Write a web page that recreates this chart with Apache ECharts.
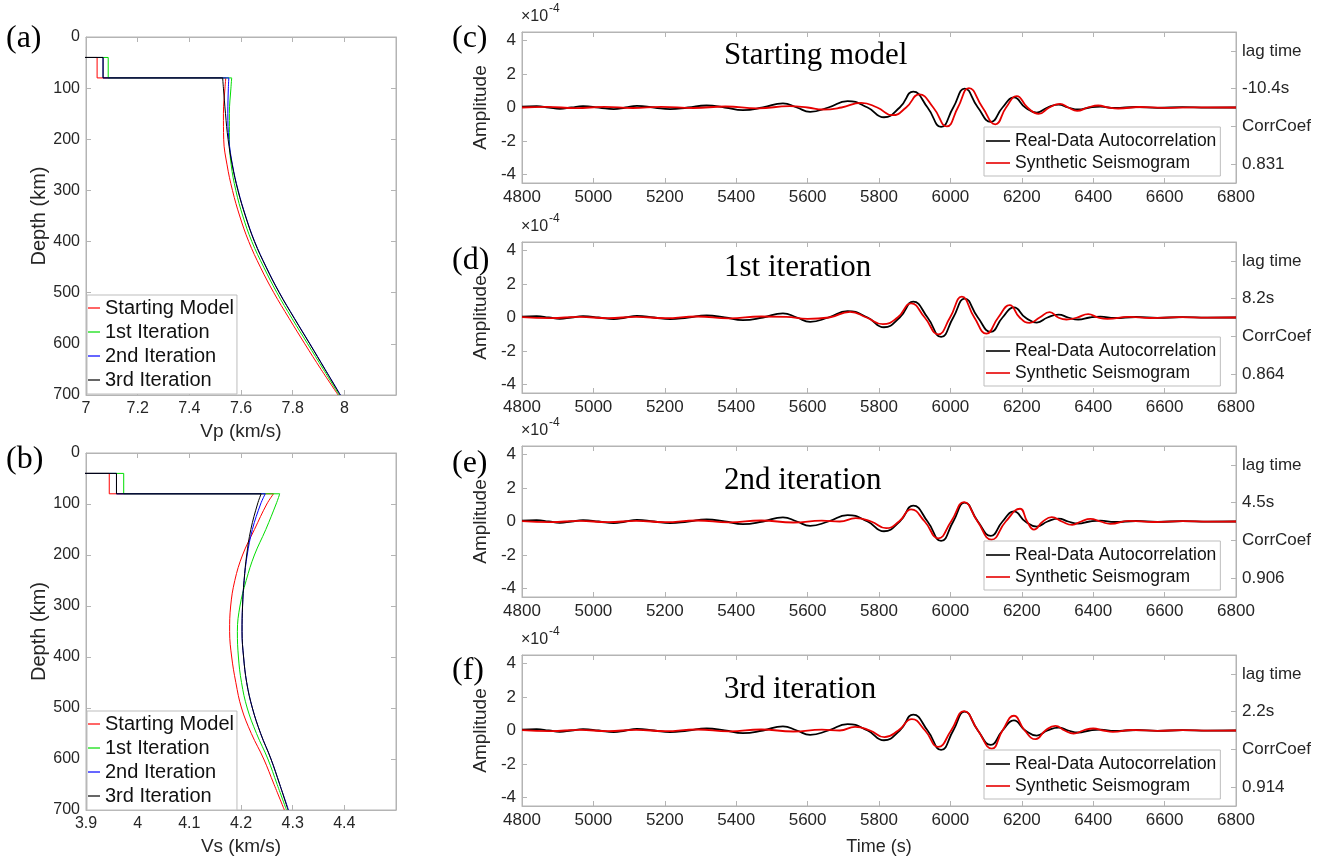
<!DOCTYPE html>
<html>
<head>
<meta charset="utf-8">
<script src="https://cdn.jsdelivr.net/npm/echarts@6/dist/echarts.min.js"></script>
<style>
  html, body { margin: 0; padding: 0; background: #fff; }
  #chart { width: 1330px; height: 861px; }
</style>
</head>
<body>
<div id="chart"></div>
<script>
// ---- velocity profiles (a), (b) ----
const modelNames = ["Starting Model", "1st Iteration", "2nd Iteration", "3rd Iteration"];
const modelColors = ["#ff0000", "#00dd00", "#0000ff", "#000000"];
const lidDepths = [40, 80];
const mantleDepths = [80, 100, 150, 200, 250, 300, 350, 400, 450, 500, 550, 600, 650, 700];

const vpCrust = 6.8;
const vpLid = [7.043, 7.086, 7.066, 7.066];
const vpStart = [7.541, 7.538, 7.532, 7.533, 7.546, 7.567, 7.595, 7.630, 7.675, 7.727, 7.786, 7.847, 7.910, 7.976];
const vpIter1 = [7.564, 7.561, 7.555, 7.555, 7.562, 7.580, 7.607, 7.642, 7.688, 7.739, 7.797, 7.858, 7.919, 7.980];
const vpIter2 = [7.553, 7.551, 7.549, 7.553, 7.567, 7.589, 7.618, 7.653, 7.698, 7.749, 7.807, 7.867, 7.926, 7.985];
const vpIter3 = [7.529, 7.532, 7.540, 7.550, 7.566, 7.588, 7.617, 7.652, 7.697, 7.748, 7.806, 7.866, 7.925, 7.984];

const vsCrust = 3.8;
const vsLid = [3.945, 3.973, 3.959, 3.959];
const vsStart = [4.263, 4.250, 4.226, 4.203, 4.188, 4.180, 4.178, 4.182, 4.190, 4.201, 4.220, 4.244, 4.264, 4.284];
const vsIter1 = [4.275, 4.268, 4.248, 4.226, 4.210, 4.198, 4.193, 4.195, 4.201, 4.212, 4.230, 4.252, 4.270, 4.288];
const vsIter2 = [4.247, 4.238, 4.222, 4.212, 4.206, 4.203, 4.202, 4.205, 4.211, 4.222, 4.238, 4.258, 4.275, 4.292];
const vsIter3 = [4.239, 4.232, 4.219, 4.211, 4.206, 4.203, 4.202, 4.205, 4.211, 4.222, 4.238, 4.258, 4.275, 4.291];

const vpTicks = [7, 7.2, 7.4, 7.6, 7.8, 8];
const vsTicks = [3.9, 4, 4.1, 4.2, 4.3, 4.4];

// ---- waveforms (c)-(f), amplitude in 1e-4 ----
const panelTitles = ["Starting model", "1st iteration", "2nd iteration", "3rd iteration"];
const panelLetters = ["(c)", "(d)", "(e)", "(f)"];
const lagTimes = ["-10.4s", "8.2s", "4.5s", "2.2s"];
const corrCoefs = ["0.831", "0.864", "0.906", "0.914"];
const ampTicks = [-4, -2, 0, 2, 4];

const realTime = [4800, 4841, 4875, 4906, 4938, 4971, 5015, 5057, 5090, 5122, 5170, 5215, 5265, 5317, 5368, 5419, 5475, 5531, 5570, 5607, 5658, 5712, 5768, 5814, 5858, 5896, 5936, 5974, 6008, 6040, 6077, 6113, 6146, 6178, 6210, 6242, 6272, 6303, 6330, 6358, 6390, 6420, 6460, 6520, 6580, 6650, 6720, 6800];
const realAmp = [0.05, 0.08, 0, -0.08, 0, 0.08, 0, -0.1, 0, 0.1, 0, -0.1, 0, 0.12, 0, -0.16, 0, 0.25, 0, -0.26, 0, 0.38, 0, -0.58, 0, 0.95, 0, -1.16, 0, 1.13, 0, -0.86, 0, 0.6, 0, -0.3, 0, 0.17, 0, -0.12, 0, 0.05, -0.03, 0.03, -0.02, 0.02, -0.01, 0];

const synTime0 = [4800, 4870, 4950, 5030, 5110, 5190, 5280, 5370, 5460, 5550, 5600, 5643, 5695, 5750, 5795, 5838, 5876, 5913, 5952, 5990, 6021, 6052, 6090, 6126, 6156, 6186, 6216, 6247, 6277, 6307, 6330, 6355, 6385, 6414, 6442, 6470, 6530, 6600, 6680, 6800];
const synAmp0 = [0, 0.04, -0.04, 0.04, -0.03, 0.04, -0.03, 0.06, -0.05, 0.08, 0, -0.12, 0, 0.28, 0, -0.46, 0, 0.78, 0, -1.13, 0, 1.16, 0, -1.0, 0, 0.68, 0, -0.38, 0, 0.22, 0, -0.2, 0, 0.12, 0, -0.06, 0.03, -0.02, 0.01, 0];

const synTime1 = [4800, 4880, 4960, 5040, 5120, 5200, 5290, 5380, 5470, 5540, 5600, 5660, 5719, 5765, 5811, 5852, 5890, 5928, 5966, 5999, 6032, 6067, 6101, 6134, 6166, 6194, 6222, 6250, 6278, 6302, 6325, 6355, 6386, 6413, 6440, 6500, 6560, 6640, 6720, 6800];
const synAmp1 = [0.02, -0.04, 0.04, -0.04, 0.04, -0.04, 0.06, -0.05, 0.06, 0.04, -0.08, 0, 0.34, 0, -0.4, 0, 0.84, 0, -1.0, 0, 1.24, 0, -0.96, 0, 0.74, 0, -0.32, 0, 0.32, 0, -0.12, 0, 0.2, 0, -0.08, 0.04, -0.03, 0.02, -0.01, 0];

const synTime2 = [4800, 4880, 4960, 5040, 5120, 5200, 5290, 5380, 5470, 5560, 5640, 5690, 5735, 5778, 5820, 5856, 5890, 5928, 5966, 6002, 6038, 6076, 6115, 6155, 6195, 6215, 6234, 6259, 6284, 6312, 6341, 6366, 6392, 6420, 6448, 6500, 6570, 6650, 6730, 6800];
const synAmp2 = [0.02, -0.04, 0.04, -0.04, 0.04, -0.04, 0.06, -0.05, 0.06, -0.06, 0.05, 0, 0.2, 0, -0.4, 0, 0.72, 0, -1.0, 0, 1.16, 0, -1.08, 0, 0.76, 0, -0.48, 0, 0.26, 0, -0.2, 0, 0.16, 0, -0.14, 0.04, -0.03, 0.02, -0.01, 0];

const synTime3 = [4800, 4880, 4960, 5040, 5120, 5200, 5290, 5380, 5470, 5560, 5640, 5690, 5733, 5775, 5815, 5854, 5892, 5929, 5966, 6002, 6038, 6077, 6116, 6146, 6178, 6208, 6239, 6266, 6294, 6320, 6345, 6372, 6400, 6428, 6455, 6510, 6580, 6650, 6730, 6800];
const synAmp3 = [0.02, -0.04, 0.04, -0.04, 0.04, -0.04, 0.06, -0.05, 0.06, -0.06, 0.05, 0, 0.22, 0, -0.4, 0, 0.68, 0, -0.98, 0, 1.16, 0, -1.08, 0, 0.88, 0, -0.52, 0, 0.28, 0, -0.18, 0, 0.12, 0, -0.08, 0.03, -0.02, 0.02, -0.01, 0];

const synTimes = [synTime0, synTime1, synTime2, synTime3];
const synAmps = [synAmp0, synAmp1, synAmp2, synAmp3];

// ---- layout ----
const sans = "Liberation Sans";
const serif = "Liberation Serif";
const axisGray = "#b4b4b4";
const labelColor = "#262626";

const profileGrids = [
  { left: 86, top: 37, width: 310, height: 358 },
  { left: 86, top: 453, width: 310, height: 357 },
];
const waveTops = [32, 242, 446, 655];
const waveGrids = waveTops.map((t) => ({ left: 522, top: t, width: 714, height: 151 }));

const lineAxis = { show: true, onZero: false, lineStyle: { color: axisGray } };
const tickStyle = (vals) => ({
  show: true, inside: true, length: 5, lineStyle: { color: axisGray },
  customValues: vals,
});
const labelStyle = (size, vals) => ({
  color: labelColor, fontSize: size, fontFamily: sans, customValues: vals,
});
const plain = (v) => String(v);

const xAxes = [];
const yAxes = [];

// profile axes
[
  { min: 7, max: 8.2, ticks: vpTicks, name: "Vp (km/s)" },
  { min: 3.9, max: 4.5, ticks: vsTicks, name: "Vs (km/s)" },
].forEach((ax, i) => {
  xAxes.push({
    type: "value", gridIndex: i, min: ax.min, max: ax.max, position: "bottom",
    axisLine: lineAxis, axisTick: tickStyle(ax.ticks), splitLine: { show: false },
    axisLabel: Object.assign(labelStyle(16, ax.ticks), { margin: 6 }),
    name: ax.name, nameLocation: "middle", nameGap: 27,
    nameTextStyle: { color: labelColor, fontSize: 19, fontFamily: sans },
  });
  xAxes.push({
    type: "value", gridIndex: i, min: ax.min, max: ax.max, position: "top",
    axisLine: lineAxis, axisTick: tickStyle(ax.ticks), splitLine: { show: false },
    axisLabel: { show: false },
  });
  yAxes.push({
    type: "value", gridIndex: i, min: 0, max: 700, interval: 100, inverse: true,
    position: "left",
    axisLine: lineAxis, axisTick: { show: true, inside: true, length: 5, lineStyle: { color: axisGray } },
    splitLine: { show: false },
    axisLabel: { color: labelColor, fontSize: 16, fontFamily: sans, margin: 6 },
    name: "Depth (km)", nameLocation: "middle", nameGap: 31,
    nameTextStyle: { color: labelColor, fontSize: 20, fontFamily: sans },
  });
  yAxes.push({
    type: "value", gridIndex: i, min: 0, max: 700, interval: 100, inverse: true,
    position: "right",
    axisLine: lineAxis, axisTick: { show: true, inside: true, length: 5, lineStyle: { color: axisGray } },
    splitLine: { show: false }, axisLabel: { show: false },
  });
});

// waveform axes
waveGrids.forEach((g, k) => {
  const gi = 2 + k;
  const last = k === waveGrids.length - 1;
  xAxes.push({
    type: "value", gridIndex: gi, min: 4800, max: 6800, interval: 200, position: "bottom",
    axisLine: lineAxis, axisTick: { show: true, inside: true, length: 5, lineStyle: { color: axisGray } },
    splitLine: { show: false },
    axisLabel: { color: labelColor, fontSize: 17, fontFamily: sans, margin: 6, formatter: plain },
    name: last ? "Time (s)" : "", nameLocation: "middle", nameGap: 32,
    nameTextStyle: { color: labelColor, fontSize: 18, fontFamily: sans },
  });
  xAxes.push({
    type: "value", gridIndex: gi, min: 4800, max: 6800, interval: 200, position: "top",
    axisLine: lineAxis, axisTick: { show: true, inside: true, length: 5, lineStyle: { color: axisGray } },
    splitLine: { show: false }, axisLabel: { show: false },
  });
  yAxes.push({
    type: "value", gridIndex: gi, min: -4.5, max: 4.5, position: "left",
    axisLine: lineAxis, axisTick: tickStyle(ampTicks), splitLine: { show: false },
    axisLabel: Object.assign(labelStyle(17, ampTicks), { margin: 6 }),
    name: "Amplitude", nameLocation: "middle", nameGap: 22,
    nameTextStyle: { color: labelColor, fontSize: 19, fontFamily: sans },
  });
  yAxes.push({
    type: "category", gridIndex: gi, position: "right", boundaryGap: true,
    data: [corrCoefs[k], "CorrCoef", lagTimes[k], "lag time"],
    axisLine: { show: true, lineStyle: { color: axisGray } },
    axisTick: { show: true, inside: true, length: 5, alignWithLabel: true, lineStyle: { color: axisGray } },
    splitLine: { show: false },
    axisLabel: { color: labelColor, fontSize: 17, fontFamily: sans, margin: 6 },
  });
});

// ---- series ----
const series = [];
const vpModels = [vpStart, vpIter1, vpIter2, vpIter3];
const vsModels = [vsStart, vsIter1, vsIter2, vsIter3];

[[vpCrust, vpLid, vpModels], [vsCrust, vsLid, vsModels]].forEach(([crust, lid, models], p) => {
  models.forEach((mantle, m) => {
    const common = {
      name: modelNames[m], type: "line", xAxisIndex: 2 * p, yAxisIndex: 2 * p,
      symbol: "none", clip: true, color: modelColors[m],
      lineStyle: { color: modelColors[m], width: 1 },
    };
    series.push(Object.assign({}, common, {
      data: [[crust, lidDepths[0]], [lid[m], lidDepths[0]], [lid[m], lidDepths[1]], [mantle[0], mantleDepths[0]]],
    }));
    series.push(Object.assign({}, common, {
      smooth: 0.4,
      data: mantle.map((v, i) => [v, mantleDepths[i]]),
    }));
  });
});

waveGrids.forEach((g, k) => {
  series.push({
    name: "Real-Data Autocorrelation", type: "line",
    xAxisIndex: 4 + 2 * k, yAxisIndex: 4 + 2 * k,
    symbol: "none", smooth: 0.5, color: "#000",
    lineStyle: { color: "#000", width: 1.8 },
    data: realTime.map((t, i) => [t, realAmp[i]]),
  });
  series.push({
    name: "Synthetic Seismogram", type: "line",
    xAxisIndex: 4 + 2 * k, yAxisIndex: 4 + 2 * k,
    symbol: "none", smooth: 0.5, color: "#e60000",
    lineStyle: { color: "#e60000", width: 1.8 },
    data: synTimes[k].map((t, i) => [t, synAmps[k][i]]),
  });
});

// ---- legends ----
const legends = [];
profileGrids.forEach((g) => {
  legends.push({
    left: 87, top: g.top + 258, orient: "vertical",
    data: modelNames, icon: "rect", itemWidth: 12, itemHeight: 1.2, itemGap: 4,
    padding: [3, 3, 4, 1], borderColor: "#bdbdbd", borderWidth: 1, backgroundColor: "#fff",
    textStyle: { fontSize: 20, lineHeight: 20, color: "#111", fontFamily: sans },
    selectedMode: false,
  });
});
waveGrids.forEach((g) => {
  legends.push({
    left: 984, top: g.top + 95, orient: "vertical",
    data: ["Real-Data Autocorrelation", "Synthetic Seismogram"],
    icon: "rect", itemWidth: 24, itemHeight: 1.6, itemGap: 4,
    padding: [5, 4, 4, 2], borderColor: "#bdbdbd", borderWidth: 1, backgroundColor: "#fff",
    textStyle: { fontSize: 17.5, lineHeight: 18, color: "#111", fontFamily: sans },
    selectedMode: false,
  });
});

// ---- text annotations ----
const graphics = [];
const addText = (x, y, text, size, font, extra) => {
  graphics.push({
    type: "text", left: x, top: y,
    style: Object.assign({ text: text, fontSize: size, fontFamily: font, fill: "#000" }, extra || {}),
  });
};
addText(6, 23, "(a)", 32, serif);
addText(6, 444, "(b)", 32, serif);
waveGrids.forEach((g, k) => {
  const letterY = [23, 245, 448, 655][k];
  addText(452, letterY, panelLetters[k], 32, serif);
  addText(724, g.top + [8, 10, 19, 19][k], panelTitles[k], 31, serif);
  addText(521, g.top - 23, "\u00d710", 16, sans, { fill: labelColor });
  addText(549, g.top - 29, "-4", 12, sans, { fill: labelColor });
});

const chart = echarts.init(document.getElementById("chart"));
chart.setOption({
  animation: false,
  backgroundColor: "#fff",
  grid: profileGrids.concat(waveGrids).map((g) =>
    Object.assign({ show: true, borderColor: axisGray, borderWidth: 1, backgroundColor: "transparent" }, g)
  ),
  xAxis: xAxes,
  yAxis: yAxes,
  legend: legends,
  series: series,
  graphic: graphics,
});
</script>
</body>
</html>
